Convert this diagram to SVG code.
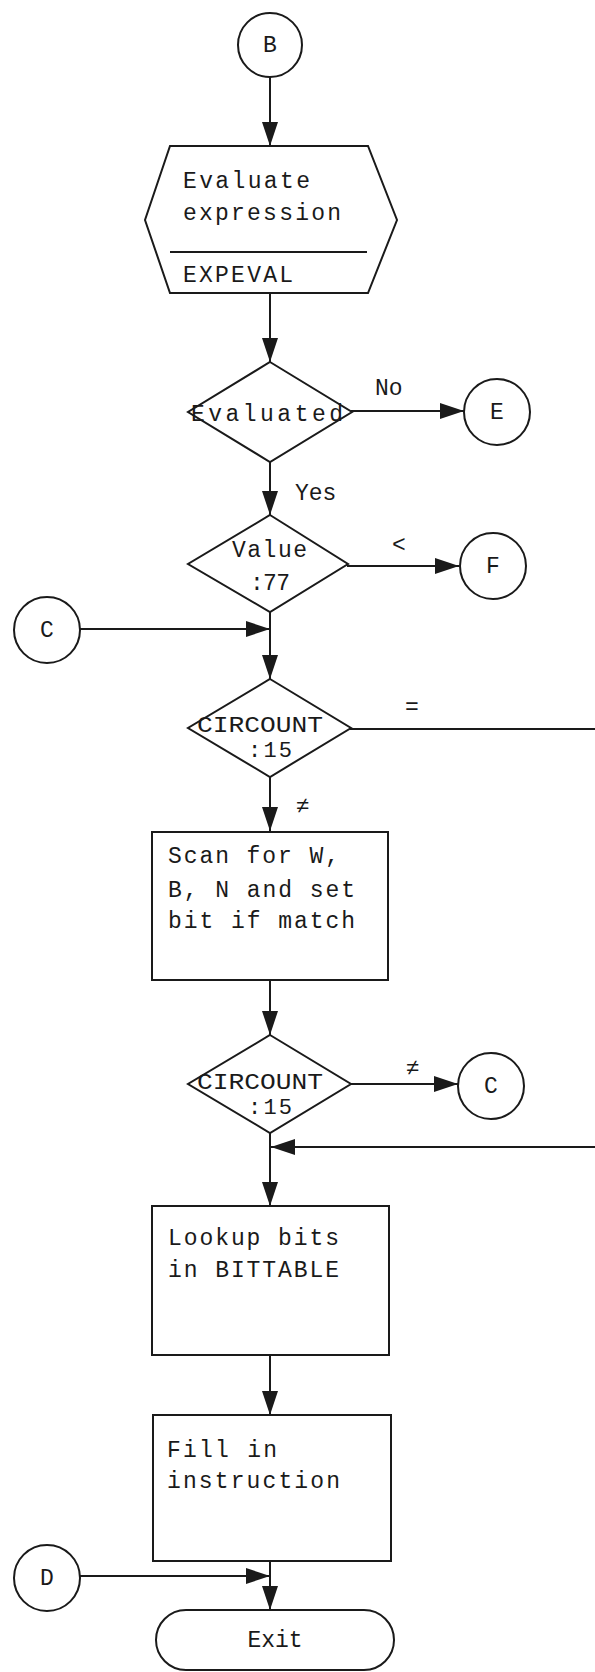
<svg xmlns="http://www.w3.org/2000/svg" width="595" height="1672" viewBox="0 0 595 1672">
<style>
.s{fill:#fff;stroke:#1a1a1a;stroke-width:2}
.c{fill:none;stroke:#1a1a1a;stroke-width:2}
.t{font-family:"Liberation Mono","DejaVu Sans Mono",monospace;font-size:23px;fill:#1a1a1a}
.d{font-size:22px}
.m{text-anchor:middle}
</style>
<defs>
<marker id="ah" markerUnits="userSpaceOnUse" markerWidth="24" markerHeight="16" refX="24" refY="8" orient="auto">
<path d="M0,0 L24,8 L0,16 z" fill="#1a1a1a"/>
</marker>
</defs>
<g id="connectors">
<path class="c" d="M270,77 L270,146" marker-end="url(#ah)"/>
<path class="c" d="M270,293 L270,362" marker-end="url(#ah)"/>
<path class="c" d="M351,411 L464,411" marker-end="url(#ah)"/>
<path class="c" d="M270,462 L270,515" marker-end="url(#ah)"/>
<path class="c" d="M347,566 L459,566" marker-end="url(#ah)"/>
<path class="c" d="M270,612 L270,679" marker-end="url(#ah)"/>
<path class="c" d="M80,629 L270,629" marker-end="url(#ah)"/>
<path class="c" d="M350,729 L595,729"/>
<path class="c" d="M270,777 L270,831" marker-end="url(#ah)"/>
<path class="c" d="M270,980 L270,1035" marker-end="url(#ah)"/>
<path class="c" d="M350,1084 L458,1084" marker-end="url(#ah)"/>
<path class="c" d="M595,1147 L271,1147" marker-end="url(#ah)"/>
<path class="c" d="M270,1133 L270,1206" marker-end="url(#ah)"/>
<path class="c" d="M270,1355 L270,1415" marker-end="url(#ah)"/>
<path class="c" d="M270,1561 L270,1610" marker-end="url(#ah)"/>
<path class="c" d="M80,1576 L270,1576" marker-end="url(#ah)"/>
<text class="t" x="375" y="395">No</text>
<text class="t" x="295" y="500">Yes</text>
<text class="t" x="392" y="552" font-size="26">&lt;</text>
<text class="t" x="405" y="714">=</text>
<text class="t" x="296" y="813">≠</text>
<text class="t" x="406" y="1075">≠</text>
</g>
<g id="B"><circle class="s" cx="270" cy="45" r="32"/><text class="t m" x="270" y="52" font-size="21">B</text></g>
<g id="evaluate">
<polygon class="s" points="170,146 368,146 397,220 368,293 170,293 145,220"/>
<line class="c" x1="170" y1="252" x2="367" y2="252"/>
<text class="t" x="183" y="188" textLength="127" lengthAdjust="spacing">Evaluate</text>
<text class="t" x="183" y="220" textLength="158" lengthAdjust="spacing">expression</text>
<text class="t" x="183" y="282" textLength="110" lengthAdjust="spacing">EXPEVAL</text>
</g>
<g id="evaluated"><polygon class="s" points="270,362 352,412 270,462 188,412"/><text class="t" x="191" y="421" textLength="152" lengthAdjust="spacing">Evaluated</text></g>
<g id="E"><circle class="s" cx="497" cy="412" r="33"/><text class="t m" x="497" y="419" font-size="21">E</text></g>
<g id="value"><polygon class="s" points="270,515 348,564 270,612 188,564"/>
<text class="t" x="232" y="557" textLength="75" lengthAdjust="spacing">Value</text>
<text class="t" x="250" y="590" textLength="40" lengthAdjust="spacing">:77</text></g>
<g id="F"><circle class="s" cx="493" cy="566" r="33"/><text class="t m" x="493" y="573" font-size="21">F</text></g>
<g id="C1"><circle class="s" cx="47" cy="630" r="33"/><text class="t m" x="47" y="637" font-size="21">C</text></g>
<g id="circount1"><polygon class="s" points="270,679 351,728 270,777 188,728"/>
<text class="t d" x="197" y="732" textLength="126" lengthAdjust="spacingAndGlyphs">CIRCOUNT</text>
<text class="t d" x="248" y="757" textLength="44" lengthAdjust="spacing">:15</text></g>
<g id="scan"><rect class="s" x="152" y="832" width="236" height="148"/>
<text class="t" x="168" y="863" textLength="171" lengthAdjust="spacing">Scan for W,</text>
<text class="t" x="168" y="897" textLength="187" lengthAdjust="spacing">B, N and set</text>
<text class="t" x="168" y="928" textLength="187" lengthAdjust="spacing">bit if match</text></g>
<g id="circount2"><polygon class="s" points="270,1035 351,1084 270,1133 188,1084"/>
<text class="t d" x="197" y="1089" textLength="126" lengthAdjust="spacingAndGlyphs">CIRCOUNT</text>
<text class="t d" x="248" y="1114" textLength="44" lengthAdjust="spacing">:15</text></g>
<g id="C2"><circle class="s" cx="491" cy="1086" r="33"/><text class="t m" x="491" y="1093" font-size="21">C</text></g>
<g id="lookup"><rect class="s" x="152" y="1206" width="237" height="149"/>
<text class="t" x="168" y="1245" textLength="171" lengthAdjust="spacing">Lookup bits</text>
<text class="t" x="168" y="1277" textLength="171" lengthAdjust="spacing">in BITTABLE</text></g>
<g id="fill"><rect class="s" x="153" y="1415" width="238" height="146"/>
<text class="t" x="167" y="1457" textLength="110" lengthAdjust="spacing">Fill in</text>
<text class="t" x="167" y="1488" textLength="173" lengthAdjust="spacing">instruction</text></g>
<g id="D"><circle class="s" cx="47" cy="1578" r="33"/><text class="t m" x="47" y="1585" font-size="21">D</text></g>
<g id="exit"><rect class="s" x="156" y="1610" width="238" height="60" rx="30"/><text class="t m" x="275" y="1647">Exit</text></g>
</svg>
